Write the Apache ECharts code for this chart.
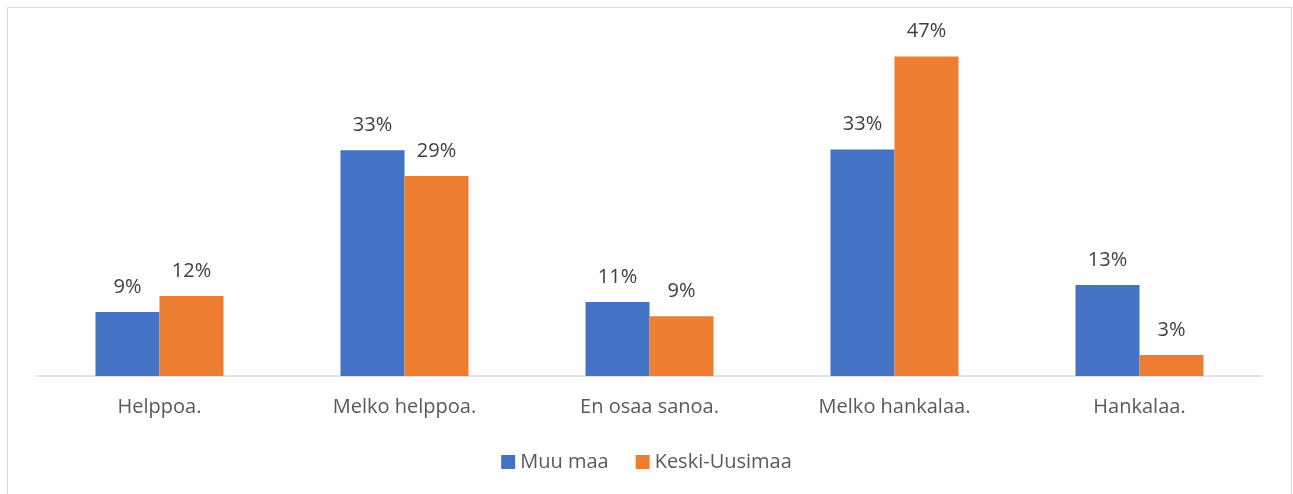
<!DOCTYPE html>
<html><head><meta charset="utf-8">
<script src="https://cdn.jsdelivr.net/npm/echarts@6/dist/echarts.min.js"></script>
<style>html,body{margin:0;padding:0;background:#fff}#c{width:1293px;height:494px}</style>
</head><body><div id="c"></div>
<script>
const categories = ["Helppoa.", "Melko helppoa.", "En osaa sanoa.", "Melko hankalaa.", "Hankalaa."];
const muuMaa = [9.4, 33.2, 10.9, 33.3, 13.4];
const keskiUusimaa = [11.75, 29.4, 8.8, 47.0, 3.1];
const seriesNames = ["Muu maa", "Keski-Uusimaa"];
const FONT = "'Open Sans', 'Noto Sans', sans-serif";
const chart = echarts.init(document.getElementById('c'));
const lbl = {show:true, position:'top', distance:15, color:'#404040', fontSize:20, fontFamily:FONT,
  formatter: p => Math.round(p.value) + '%'};
chart.setOption({
  animation:false,
  graphic:[{type:'rect', shape:{x:7.5,y:7.5,width:1284,height:500}, style:{fill:'none', stroke:'#d9d9d9', lineWidth:1}, z:-1}],
  grid:{left:37, right:31, top:36, bottom:118},
  legend:{data:seriesNames, top:447, left:'center', itemWidth:14, itemHeight:14, itemGap:27, icon:'rect',
    textStyle:{color:'#595959', fontSize:20, fontFamily:FONT}},
  xAxis:{type:'category', data:categories, axisLine:{lineStyle:{color:'#d9d9d9', width:1.5}}, axisTick:{show:false},
    axisLabel:{color:'#595959', fontSize:20, fontFamily:FONT, margin:21}},
  yAxis:{type:'value', min:0, max:50, show:false, splitLine:{show:false}},
  series:[
    {name:seriesNames[0], type:'bar', data:muuMaa, barWidth:64, barGap:'0%', itemStyle:{color:'#4472c4'}, label:lbl},
    {name:seriesNames[1], type:'bar', data:keskiUusimaa, barWidth:64, itemStyle:{color:'#ed7d31'}, label:lbl}
  ]
});
</script></body></html>
